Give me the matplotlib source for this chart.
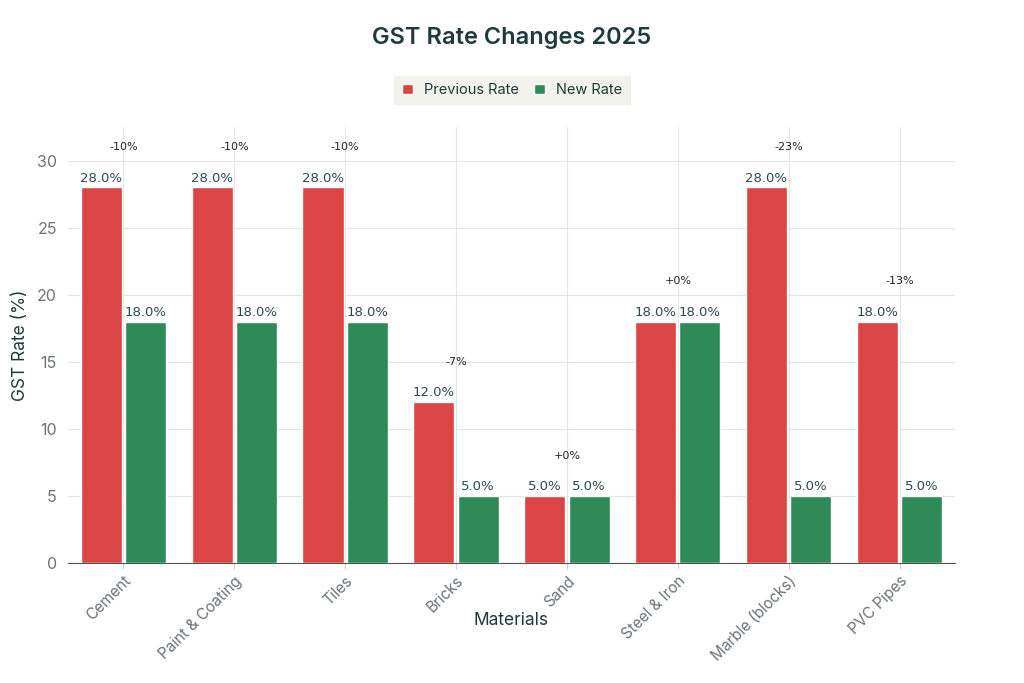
import numpy as np
import matplotlib.pyplot as plt

# data
materials = ["Cement", "Paint & Coating", "Tiles", "Bricks", "Sand",
             "Steel & Iron", "Marble (blocks)", "PVC Pipes"]
previous_rate = [28, 28, 28, 12, 5, 18, 28, 18]
new_rate = [18, 18, 18, 5, 5, 18, 5, 5]
change_labels = ["-10%", "-10%", "-10%", "-7%", "+0%", "+0%", "-23%", "-13%"]

red = "#DB4545"
green = "#2E8B57"
dark = "#1F3A3D"

plt.rcParams['font.family'] = ['Inter', 'DejaVu Sans']

fig = plt.figure(figsize=(10.24, 6.83), dpi=100)
ax = fig.add_axes([0.0664, 0.1757, 0.8662, 0.6383])

x = np.arange(len(materials))
w = 0.37
b1 = ax.bar(x - 0.2, previous_rate, w, color=red, edgecolor="white", linewidth=1, label="Previous Rate", zorder=3)
b2 = ax.bar(x + 0.2, new_rate, w, color=green, edgecolor="white", linewidth=1, label="New Rate", zorder=3)

for bars in (b1, b2):
    for r in bars:
        ax.text(r.get_x() + r.get_width() / 2, r.get_height() + 0.2, f"{r.get_height():.1f}%",
                ha="center", va="bottom", fontsize=9.5, color="#2b4a50", family="DejaVu Sans")

for i, lab in enumerate(change_labels):
    top = max(previous_rate[i], new_rate[i])
    ax.text(i, top + 3, lab, ha="center", va="center", fontsize=8, color="#222222", family="DejaVu Sans")

ax.set_xlim(-0.5, 7.5)
ax.set_ylim(0, 32.5)
ax.set_yticks([0, 5, 10, 15, 20, 25, 30])
ax.set_xticks(x)
ax.set_xticklabels(materials, rotation=45, ha="right", rotation_mode="anchor")
ax.tick_params(axis="x", colors="#d0d0d0", labelcolor="#6b7479", labelsize=11, length=4)
ax.tick_params(axis="y", length=0, labelcolor="#6b7479", labelsize=11.5, pad=8)
ax.grid(True, color="#e4e4e4", linewidth=0.8, zorder=0)
for s in ["top", "right", "left"]:
    ax.spines[s].set_visible(False)
ax.spines["bottom"].set_color("#555555")

ax.set_xlabel("Materials", fontsize=12.5, color=dark)
ax.xaxis.set_label_coords(0.5, -0.133)
ax.xaxis.label.set_va("center")
ax.set_ylabel("GST Rate (%)", fontsize=12.5, color=dark)
ax.yaxis.set_label_coords(-0.054, 0.5)
ax.yaxis.label.set_va("center")

fig.suptitle("GST Rate Changes 2025", fontsize=17, fontweight="semibold", color=dark, y=0.96)
leg = fig.legend(loc="center", bbox_to_anchor=(0.5, 0.868), ncol=2, frameon=True, fontsize=10.5,
                 handlelength=0.75, handleheight=0.75, handletextpad=0.8, columnspacing=1.0, borderpad=0.5)
leg.get_frame().set_facecolor("#F0EFE8")
leg.get_frame().set_edgecolor("#F0EFE8")
leg.get_frame().set_boxstyle("square", pad=0)
for t in leg.get_texts():
    t.set_color(dark)

fig.savefig("out.png", dpi=100)
